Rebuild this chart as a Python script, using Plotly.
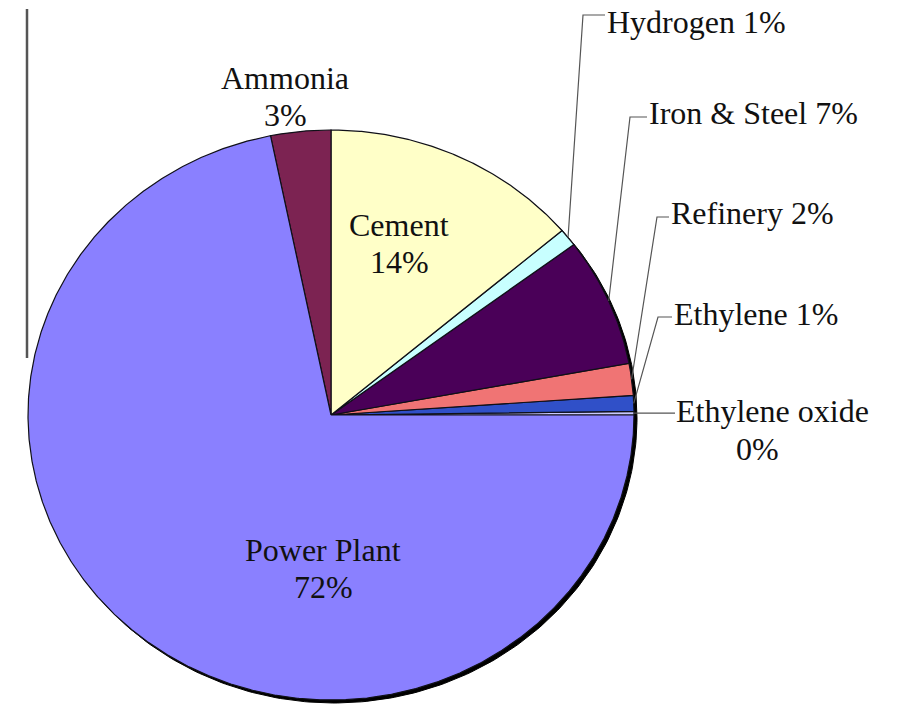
import numpy as np
import plotly.graph_objects as go

# CO2 emission sources, listed counterclockwise from 3 o'clock
categories = ["Ethylene oxide", "Ethylene", "Refinery", "Iron & Steel",
              "Hydrogen", "Cement", "Ammonia", "Power Plant"]
shares = [0.2, 0.9, 1.8, 7.3, 1.0, 13.8, 3.2, 71.8]
colors = ["#c8c8ff", "#3050c8", "#f07474", "#4a0058",
          "#c8ffff", "#ffffc8", "#7c2352", "#8a80ff"]

W, H = 899, 710
# pixel geometry of the (slightly oval) pie
CX, CY, RX, RY = 331, 415, 303, 285
X0, X1 = -CX / RX, (W - CX) / RX
Y1, Y0 = CY / RY, -(H - CY) / RY


def px(x):
    return X0 + x / W * (X1 - X0)


def py(y):
    return Y1 - y / H * (Y1 - Y0)


fig = go.Figure()

# drop shadow under the pie
t = np.linspace(0, 2 * np.pi, 400)
fig.add_trace(go.Scatter(
    x=np.cos(t) + 3 / RX, y=np.sin(t) - 3 / RY, mode="lines", fill="toself",
    fillcolor="#000000", line=dict(color="#000000", width=1),
    hoverinfo="skip", showlegend=False))

total = sum(shares)
start = 0.0
mids = {}
for name, v, c in zip(categories, shares, colors):
    span = v / total * 2 * np.pi
    a = np.linspace(start, start + span, max(int(span / 0.005), 2))
    xs = np.concatenate([[0], np.cos(a), [0]])
    ys = np.concatenate([[0], np.sin(a), [0]])
    fig.add_trace(go.Scatter(
        x=xs, y=ys, mode="lines", fill="toself", fillcolor=c,
        line=dict(color="#101018", width=1.2), name=name,
        hoverinfo="name", showlegend=False))
    mids[name] = start + span / 2
    start += span

FONT = dict(family="Liberation Serif, Times New Roman, serif", size=32, color="#111111")
pct = {n: f"{round(v / total * 100):.0f}%" for n, v in zip(categories, shares)}

# two-line labels sitting on / above their slices (x, middle y between lines)
inner = {"Ammonia": (285, 96), "Cement": (399, 243), "Power Plant": (323, 568)}
for n, (x, ym) in inner.items():
    fig.add_annotation(x=px(x), y=py(ym - 18.5), text=n, showarrow=False,
                       font=FONT, borderpad=0)
    fig.add_annotation(x=px(x), y=py(ym + 18.5), text=pct[n], showarrow=False,
                       font=FONT, borderpad=0)

# labels on the right joined to their slices by leader lines
outer = {
    "Hydrogen": (606, 22, 583, 15),
    "Iron & Steel": (648, 113, 630, 117),
    "Refinery": (670, 213, 657, 217),
    "Ethylene": (673, 314, 658, 317),
}
for n, (lx, ly, kx, ky) in outer.items():
    m = mids[n]
    fig.add_trace(go.Scatter(
        x=[px(lx - 1), px(kx), np.cos(m) * 1.0],
        y=[py(ky), py(ky), np.sin(m) * 1.0],
        mode="lines", line=dict(color="#555555", width=1.2),
        hoverinfo="skip", showlegend=False))
    fig.add_annotation(x=px(lx), y=py(ly), text=f"{n} {pct[n]}", showarrow=False,
                       xanchor="left", font=FONT, borderpad=0)

n = "Ethylene oxide"
fig.add_trace(go.Scatter(
    x=[np.cos(mids[n]), px(675)], y=[np.sin(mids[n]), np.sin(mids[n])],
    mode="lines", line=dict(color="#555555", width=1.2),
    hoverinfo="skip", showlegend=False))
fig.add_annotation(x=px(675), y=py(411), text=n, showarrow=False, xanchor="left",
                   font=FONT, borderpad=0)
fig.add_annotation(x=px(757), y=py(449), text=pct[n], showarrow=False,
                   font=FONT, borderpad=0)

# frame edge on the left
fig.add_shape(type="line", x0=px(27), x1=px(27), y0=py(9), y1=py(358),
              line=dict(color="#555555", width=2.5))

fig.update_layout(
    width=W, height=H, margin=dict(l=0, r=0, t=0, b=0),
    paper_bgcolor="white", plot_bgcolor="white",
    xaxis=dict(range=[X0, X1], visible=False, fixedrange=True),
    yaxis=dict(range=[Y0, Y1], visible=False, fixedrange=True),
    showlegend=False,
)

fig.write_html("out.html")
